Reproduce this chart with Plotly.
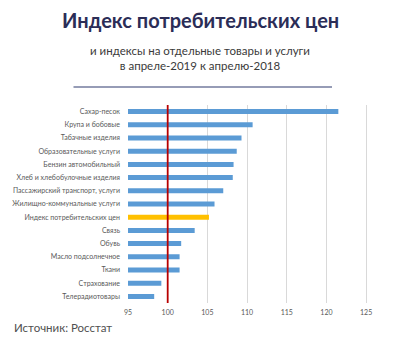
import plotly.graph_objects as go

categories = [
    "Сахар-песок",
    "Крупа и бобовые",
    "Табачные изделия",
    "Образовательные услуги",
    "Бензин автомобильный",
    "Хлеб и хлебобулочные изделия",
    "Пассажирский транспорт, услуги",
    "Жилищно-коммунальные услуги",
    "Индекс потребительских цен",
    "Связь",
    "Обувь",
    "Масло подсолнечное",
    "Ткани",
    "Страхование",
    "Телерадиотовары",
]
values = [121.5, 110.7, 109.3, 108.7, 108.3, 108.2, 107.0, 105.9, 105.2, 103.4, 101.7, 101.5, 101.5, 99.2, 98.3]
highlight = "Индекс потребительских цен"
x_ticks = [95, 100, 105, 110, 115, 120, 125]
reference_level = 100

colors = ["#ffc000" if c == highlight else "#5b9bd5" for c in categories]

PL, PR, PT, PB = 128, 382, 105, 303
W, H = PR - PL, PB - PT


def px(xp):
    return (xp - PL) / W


def py(yp):
    return (PB - yp) / H


fig = go.Figure()
fig.add_trace(go.Bar(
    y=categories, x=values, orientation="h",
    marker=dict(color=colors, line=dict(width=0)),
    hoverinfo="x+y",
))

fig.add_shape(type="line", xref="x", yref="paper", x0=reference_level, x1=reference_level,
              y0=0, y1=1, line=dict(color="#b80000", width=1.8), layer="above")

# title rule drawn as a headless arrow
fig.add_annotation(text="", xref="paper", yref="paper", x=px(332), y=py(87),
                   showarrow=True, ax=-260, ay=0, axref="pixel", ayref="pixel",
                   arrowhead=0, arrowwidth=1.2, arrowcolor="#2e3a6e",
                   standoff=0, startstandoff=0)

fig.add_annotation(text="<b>Индекс потребительских цен</b>", xref="paper", yref="paper",
                   x=px(200), y=py(20), xanchor="center", yanchor="middle",
                   showarrow=False, font=dict(family="Lato", size=20, color="#2b2d57"))
fig.add_annotation(text="и индексы на отдельные товары и услуги<br>в апреле-2019 к апрелю-2018",
                   xref="paper", yref="paper",
                   x=px(200), y=py(58), xanchor="center", yanchor="middle",
                   showarrow=False, align="center",
                   font=dict(family="Lato", size=11.5, color="#3a3a3a"))
fig.add_annotation(text="Источник: Росстат", xref="paper", yref="paper",
                   x=px(12), y=py(327), xanchor="left", yanchor="middle",
                   showarrow=False, font=dict(family="Lato", size=11.5, color="#505050"))

fig.update_layout(
    width=400, height=345,
    margin=dict(l=PL, r=400 - PR, t=PT, b=345 - PB),
    paper_bgcolor="white", plot_bgcolor="white",
    bargap=0.62,
    showlegend=False,
    font=dict(family="Lato", size=7, color="#595959"),
    xaxis=dict(range=[95, 127], tickvals=x_ticks, showgrid=True, gridcolor="#d9d9d9",
               gridwidth=1, zeroline=False, showline=False, ticks="",
               tickfont=dict(size=7, color="#595959"), ticklabelstandoff=4, fixedrange=True),
    yaxis=dict(autorange="reversed", showgrid=False, showline=False, ticks="",
               tickfont=dict(size=7, color="#595959"), ticklabelstandoff=7, fixedrange=True),
)

fig.write_html("out.html")
